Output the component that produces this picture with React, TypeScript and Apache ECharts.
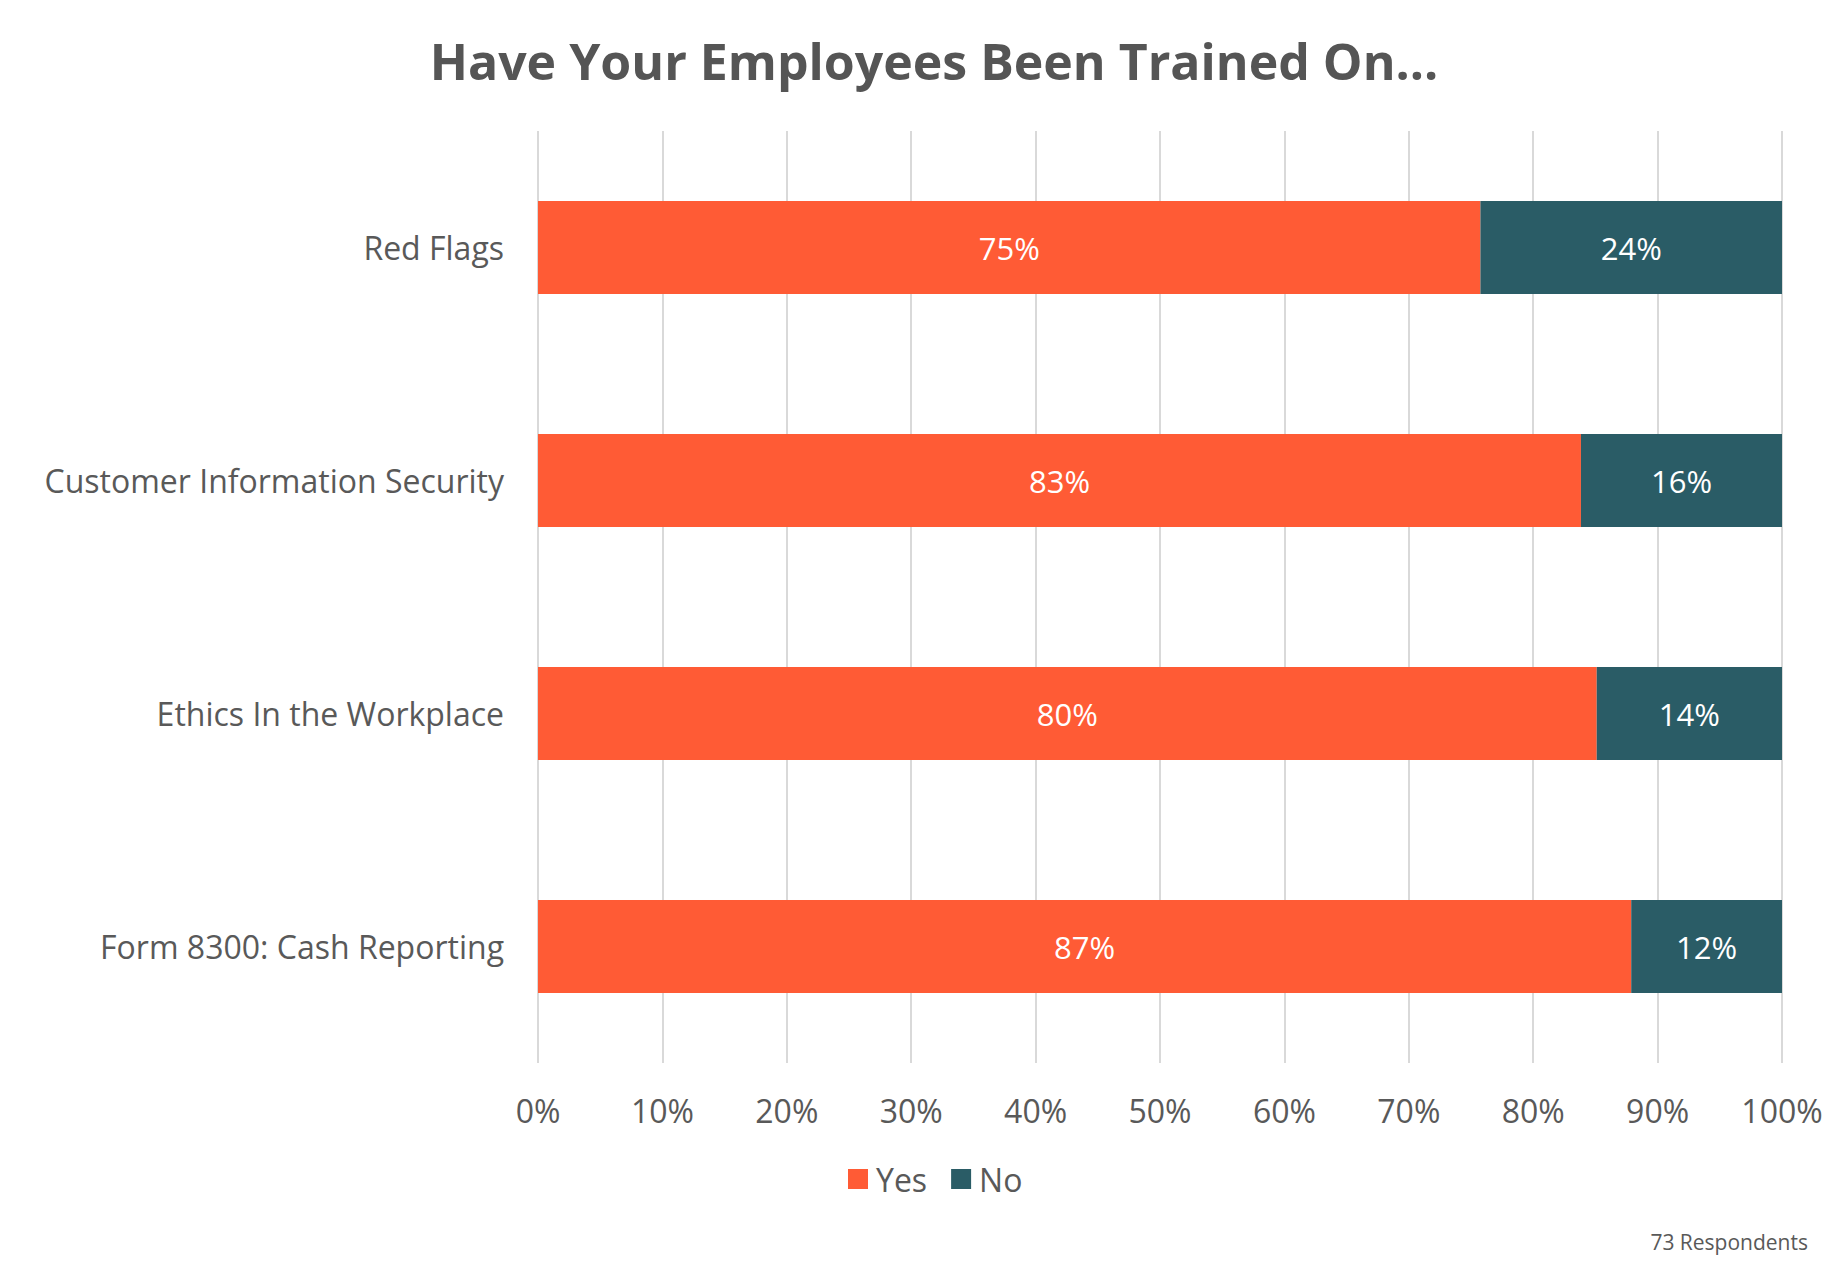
import React, { useEffect, useRef } from "react";
import * as echarts from "echarts";

const categories = ["Red Flags", "Customer Information Security", "Ethics In the Workplace", "Form 8300: Cash Reporting"];
const yesValues = [75, 83, 80, 87];
const noValues = [24, 16, 14, 12];
const seriesNames = ["Yes", "No"];
const titleText = "Have Your Employees Been Trained On...";
const footnote = "73 Respondents";

const FONT = "'Open Sans', Lato, sans-serif";
const TEXT = "#595959";

export default function App() {
  const ref = useRef<HTMLDivElement>(null);
  useEffect(() => {
    document.body.style.margin = "0";
    const chart = echarts.init(ref.current!, null, { renderer: "svg" });
    const yesShare = yesValues.map((v, i) => (v / (v + noValues[i])) * 100);
    const noShare = noValues.map((v, i) => (v / (yesValues[i] + v)) * 100);
    chart.setOption({
      animation: false,
      textStyle: { fontFamily: FONT },
      grid: { left: 538, right: 55, top: 131, bottom: 207 },
      xAxis: {
        type: "value",
        min: 0,
        max: 100,
        interval: 10,
        axisLine: { show: false },
        axisTick: { show: false },
        splitLine: { show: true, lineStyle: { color: "#d9d9d9", width: 2 } },
        axisLabel: { formatter: "{value}%", color: TEXT, fontSize: 32, margin: 31, fontFamily: FONT },
      },
      yAxis: {
        type: "category",
        inverse: true,
        data: categories,
        axisLine: { show: false },
        axisTick: { show: false },
        axisLabel: { color: TEXT, fontSize: 32, margin: 34, fontFamily: FONT },
      },
      legend: {
        left: 843,
        top: 1158,
        icon: "rect",
        itemWidth: 20,
        itemHeight: 20,
        itemGap: 24,
        textStyle: { color: TEXT, fontSize: 32, fontFamily: FONT, padding: [0, 0, 0, 3] },
        data: seriesNames,
      },
      series: [
        {
          name: seriesNames[0],
          type: "bar",
          stack: "total",
          barCategoryGap: "60%",
          itemStyle: { color: "#FF5B35" },
          label: {
            show: true,
            position: "inside",
            color: "#fff",
            fontSize: 31,
            fontFamily: FONT,
            formatter: (p: any) => yesValues[p.dataIndex] + "%",
          },
          data: yesShare,
        },
        {
          name: seriesNames[1],
          type: "bar",
          stack: "total",
          barCategoryGap: "60%",
          itemStyle: { color: "#2A5C66" },
          label: {
            show: true,
            position: "inside",
            color: "#fff",
            fontSize: 31,
            fontFamily: FONT,
            formatter: (p: any) => noValues[p.dataIndex] + "%",
          },
          data: noShare,
        },
      ],
      graphic: [
        {
          type: "text",
          x: 934,
          y: 61,
          style: {
            text: titleText,
            fontSize: 50,
            fontWeight: "bold",
            fontFamily: FONT,
            fill: "#555555",
            textAlign: "center",
            textVerticalAlign: "middle",
          },
        },
        {
          type: "text",
          x: 1808,
          y: 1242,
          style: {
            text: footnote,
            fontSize: 21,
            fontFamily: FONT,
            fill: TEXT,
            textAlign: "right",
            textVerticalAlign: "middle",
          },
        },
      ],
    });
    return () => chart.dispose();
  }, []);
  return <div ref={ref} style={{ width: 1837, height: 1270 }} />;
}
